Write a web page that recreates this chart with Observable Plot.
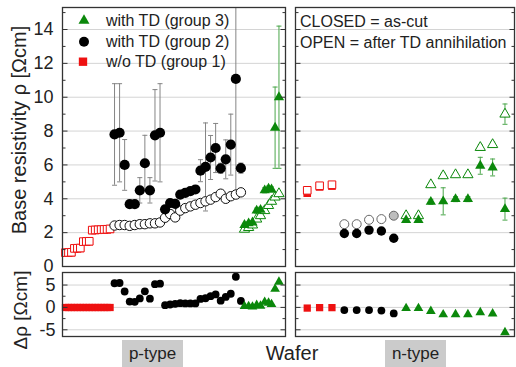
<!DOCTYPE html>
<html><head><meta charset="utf-8">
<script src="https://cdn.jsdelivr.net/npm/d3@7"></script>
<script src="https://cdn.jsdelivr.net/npm/@observablehq/plot@0.6"></script>
<style>
body{margin:0;background:#fff;}
#wrap{position:relative;width:516px;height:367px;overflow:hidden;font-family:"Liberation Sans",Arial,Helvetica,sans-serif;color:#222;}
.lbl{position:absolute;white-space:nowrap;line-height:1;}
</style></head><body><div id="wrap"></div>
<script>
// ---------------- data ----------------
// p-type wafers (wafer position along x, left panel)
const pRedX = [1,2,3,4,5,6,7,8,9,10,11,12,13,14,15,16];
const pRedClosed = [0.8,0.81,0.82,1.05,1.06,1.07,1.45,1.46,1.47,2.13,2.14,2.15,2.16,2.17,2.18,2.2];
const pRedOpen   = [0.82,0.83,0.84,1.07,1.08,1.09,1.47,1.48,1.49,2.15,2.16,2.17,2.18,2.19,2.2,2.22];
const pRedDelta  = [-0.02,-0.02,-0.02,-0.02,-0.02,-0.02,-0.02,-0.02,-0.02,-0.02,-0.02,-0.02,-0.02,-0.02,-0.02,-0.02];

const pBlackX = [17.5,19.2,20.9,22.6,24.3,26.0,27.7,29.4,31.1,32.8,34.5,36.2,37.9,39.6,41.3,43.0,44.7,46.4,48.1,49.8,51.5,53.2,54.9,56.6,58.3,60.0];
const pBlackClosed = [7.8,7.9,6.0,3.68,3.68,4.5,6.1,4.5,7.75,7.9,3.38,3.75,3.7,4.25,4.35,4.45,4.55,5.66,5.88,6.44,7.0,5.8,6.33,7.2,11.08,5.81];
const pBlackErr    = [3.0,2.9,1.5,0.2,0.2,0.75,1.65,0.75,2.7,2.9,0.15,0.2,0.15,0.15,0.15,0.15,0.15,0.65,2.6,1.3,1.45,0.3,1.15,1.8,6.6,0.3];
const pBlackOpen   = [2.42,2.45,2.45,2.4,2.45,2.5,2.5,2.55,2.55,2.6,2.88,3.1,2.9,3.3,3.45,3.55,3.65,3.75,3.85,3.95,4.1,4.3,4.0,4.15,4.25,4.38];
const pBlackDelta  = [5.4,5.45,3.55,1.3,1.25,2.0,3.6,1.95,5.2,5.3,0.5,0.65,0.8,0.95,0.9,0.9,0.9,1.9,2.05,2.5,2.9,1.5,2.35,3.05,6.85,1.45];

const pGreenX = [61.2,62.6,63.9,65.3,66.6,68.0,69.3,70.3,71.5,72.8];
const pGreenClosed = [2.45,2.55,2.6,3.3,3.35,4.5,4.6,4.55,8.2,10.0];
const pGreenErr    = [0.1,0.1,0.1,0.15,0.15,0.15,0.15,0.15,2.4,4.2];
const pGreenOpen   = [2.2,2.3,2.45,2.8,3.0,3.3,3.6,3.85,4.1,4.3];
const pGreenDelta  = [0.25,0.25,0.15,0.5,0.35,1.2,1.0,0.7,4.1,5.7];

// n-type wafers (right panel)
const nRedX = [1,2,3];
const nRedClosed = [4.33,4.7,4.75];
const nRedOpen   = [4.5,4.77,4.83];
const nRedDelta  = [-0.15,-0.05,-0.05];

const nBlackX = [4,5,6,7,8];
const nBlackClosed = [1.95,1.95,2.15,2.1,1.67];
const nBlackOpen   = [2.5,2.5,2.76,2.8,3.0];
const nBlackDelta  = [-0.6,-0.6,-0.6,-0.7,-1.35];

const nGreenX = [9,10,11,12,13,14,15,16,17];
const nGreenClosed  = [2.74,2.74,3.82,3.85,3.98,3.98,5.95,5.85,3.39];
const nGreenErr     = [0.1,0.1,0.15,0.8,0.15,0.15,0.5,0.5,0.65];
const nGreenOpen    = [3.0,3.0,4.83,5.36,5.42,5.42,7.03,7.2,9.0];
const nGreenOpenErr = [0.1,0.1,0.1,0.15,0.1,0.1,0.15,0.15,0.6];
const nGreenDelta   = [-0.2,-0.2,-0.85,-1.6,-1.55,-1.55,-1.1,-1.4,-5.6];

// axis ticks
const topTicks = [0,2,4,6,8,10,12,14];
const topMinor = [1,3,5,7,9,11,13,15];
const topGrid  = [2,4,6,8,10,12,14];
const botTicks = [-5,0,5];
const botMinor = [-2.5,2.5];
const botGrid  = [-5,0,5];

const legendLabels = ["with TD (group 3)","with TD (group 2)","w/o TD (group 1)"];
const noteLabels = ["CLOSED = as-cut","OPEN = after TD annihilation"];

// ---------------- build ----------------
const font = '"Liberation Sans", Arial, Helvetica, sans-serif';
const RED = "#ee1111", GREEN = "#0b880b", GBAR = "#4aa64a", GREY = "#858585";
const wrap = document.getElementById("wrap");

const rows = (xs, cols) => xs.map((x, i) => {
  const r = {x};
  for (const k in cols) r[k] = cols[k][i];
  return r;
});
const pR = rows(pRedX, {c: pRedClosed, o: pRedOpen, d: pRedDelta});
const pB = rows(pBlackX, {c: pBlackClosed, e: pBlackErr, o: pBlackOpen, d: pBlackDelta});
const pG = rows(pGreenX, {c: pGreenClosed, e: pGreenErr, o: pGreenOpen, d: pGreenDelta});
const nR = rows(nRedX, {c: nRedClosed, o: nRedOpen, d: nRedDelta});
const nB = rows(nBlackX, {c: nBlackClosed, o: nBlackOpen, d: nBlackDelta});
const nG = rows(nGreenX, {c: nGreenClosed, e: nGreenErr, o: nGreenOpen, oe: nGreenOpenErr, d: nGreenDelta});

const seg = (a, b) => ({draw(ctx) { ctx.moveTo(a, 0); ctx.lineTo(b, 0); }});
const cap = seg(-2.5, 2.5);

const TOP_DOM = [0, 15.3], BOT_DOM = [-6.5, 7.8];
const PX_DOM = [0, 75], NX_DOM = [0.05, 17.77];

function errBars(data, v, e, color, ymax) {
  return [
    Plot.ruleX(data, {x: "x", y1: d => d[v] - d[e], y2: d => Math.min(d[v] + d[e], ymax), stroke: color, strokeWidth: 1}),
    Plot.dot(data.filter(d => d[v] + d[e] <= ymax), {x: "x", y: d => d[v] + d[e], symbol: cap, stroke: color, fill: "none", strokeWidth: 1}),
    Plot.dot(data, {x: "x", y: d => d[v] - d[e], symbol: cap, stroke: color, fill: "none", strokeWidth: 1})
  ];
}

function panel(o) {
  const [x0, x1] = o.xDomain;
  const edge = (vals, len) => [
    Plot.dot(vals, {x: () => x0, y: d => d, symbol: seg(0, len), stroke: "#333", fill: "none", strokeWidth: 1}),
    Plot.dot(vals, {x: () => x1, y: d => d, symbol: seg(-len, 0), stroke: "#333", fill: "none", strokeWidth: 1})
  ];
  const svg = Plot.plot({
    width: o.width, height: o.height,
    marginLeft: o.ml, marginRight: o.mr, marginTop: o.mt, marginBottom: o.mb,
    x: {domain: o.xDomain, axis: null},
    y: o.labels
      ? {domain: o.yDomain, axis: "left", ticks: o.majors, tickSize: 0, tickPadding: o.pad, tickFormat: d => String(d), label: null}
      : {domain: o.yDomain, axis: null},
    style: {fontSize: "18px", fontFamily: font, background: "transparent", overflow: "visible", color: "#222"},
    marks: [
      Plot.ruleY(o.grid, {stroke: "#d4d4d4", strokeWidth: 1}),
      ...o.marks,
      ...edge(o.majors, 5), ...edge(o.minors, 3),
      Plot.frame({stroke: "#333", strokeWidth: 1.3})
    ]
  });
  svg.style.position = "absolute";
  svg.style.left = o.left + "px";
  svg.style.top = o.top + "px";
  wrap.appendChild(svg);
}

const ymax = TOP_DOM[1];
// top-left: p-type resistivity
panel({
  left: 0, top: 0, width: 290, height: 270, ml: 62, mr: 5, mt: 7, mb: 4, pad: 9,
  xDomain: PX_DOM, yDomain: TOP_DOM, labels: true, majors: topTicks, minors: topMinor, grid: topGrid,
  marks: [
    ...errBars(pG, "c", "e", GBAR, ymax),
    ...errBars(pB, "c", "e", GREY, ymax),
    Plot.dot(pR, {x: "x", y: "c", symbol: "square", r: 4.3, fill: RED, stroke: "none"}),
    Plot.dot(pR, {x: "x", y: "o", symbol: "square", r: 4.3, fill: "white", stroke: RED, strokeWidth: 1}),
    Plot.dot(pB, {x: "x", y: "o", r: 4.7, fill: "white", stroke: "#111", strokeWidth: 1}),
    Plot.dot(pB, {x: "x", y: "c", r: 5.1, fill: "#000", stroke: "none"}),
    Plot.dot(pG, {x: "x", y: "o", symbol: "triangle", r: 3.8, fill: "white", stroke: GREEN, strokeWidth: 1}),
    Plot.dot(pG, {x: "x", y: "c", symbol: "triangle", r: 3.8, fill: GREEN, stroke: "none"})
  ]
});
// top-right: n-type resistivity
panel({
  left: 290, top: 0, width: 226, height: 270, ml: 5, mr: 2, mt: 7, mb: 4,
  xDomain: NX_DOM, yDomain: TOP_DOM, labels: false, majors: topTicks, minors: topMinor, grid: topGrid,
  marks: [
    ...errBars(nG, "o", "oe", GBAR, ymax),
    ...errBars(nG, "c", "e", GBAR, ymax),
    Plot.dot(nR, {x: "x", y: "c", symbol: "square", r: 4.3, fill: RED, stroke: "none"}),
    Plot.dot(nR, {x: "x", y: "o", symbol: "square", r: 4.3, fill: "white", stroke: RED, strokeWidth: 1}),
    Plot.dot(nB, {x: "x", y: "o", r: 4.5, fill: (d, i) => i === nB.length - 1 ? "#bdbdbd" : "white", stroke: "#666", strokeWidth: 1}),
    Plot.dot(nB, {x: "x", y: "c", r: 4.7, fill: "#000", stroke: "none"}),
    Plot.dot(nG, {x: "x", y: "o", symbol: "triangle", r: 3.8, fill: "white", stroke: GREEN, strokeWidth: 1}),
    Plot.dot(nG, {x: "x", y: "c", symbol: "triangle", r: 3.8, fill: GREEN, stroke: "none"})
  ]
});
// bottom-left: p-type delta
panel({
  left: 0, top: 268, width: 290, height: 72, ml: 62, mr: 5, mt: 4, mb: 4, pad: 7,
  xDomain: PX_DOM, yDomain: BOT_DOM, labels: true, majors: botTicks, minors: botMinor, grid: botGrid,
  marks: [
    Plot.dot(pR, {x: "x", y: "d", symbol: "square", r: 4.1, fill: RED, stroke: "none"}),
    Plot.dot(pB, {x: "x", y: "d", r: 3.9, fill: "#000", stroke: "none"}),
    Plot.dot(pG, {x: "x", y: "d", symbol: "triangle", r: 3.6, fill: GREEN, stroke: "none"})
  ]
});
// bottom-right: n-type delta
panel({
  left: 290, top: 268, width: 226, height: 72, ml: 5, mr: 2, mt: 4, mb: 4,
  xDomain: NX_DOM, yDomain: BOT_DOM, labels: false, majors: botTicks, minors: botMinor, grid: botGrid,
  marks: [
    Plot.dot(nR, {x: "x", y: "d", symbol: "square", r: 4.1, fill: RED, stroke: "none"}),
    Plot.dot(nB, {x: "x", y: "d", r: 3.9, fill: "#000", stroke: "none"}),
    Plot.dot(nG, {x: "x", y: "d", symbol: "triangle", r: 3.6, fill: GREEN, stroke: "none"})
  ]
});

// legend (top-left panel)
const NS = "http://www.w3.org/2000/svg";
const leg = document.createElementNS(NS, "svg");
leg.setAttribute("width", 260); leg.setAttribute("height", 80);
leg.style.cssText = "position:absolute;left:0;top:0;overflow:visible";
const legY = [20.7, 41.7, 61.7];
leg.innerHTML =
  `<path d="${d3.symbol(d3.symbolTriangle, 52)()}" transform="translate(84,${legY[0]})" fill="${GREEN}"/>` +
  `<circle cx="84" cy="${legY[1]}" r="5" fill="#000"/>` +
  `<path d="${d3.symbol(d3.symbolSquare, 70)()}" transform="translate(83,${legY[2]})" fill="${RED}"/>` +
  legendLabels.map((t, i) => `<text x="106" y="${legY[i] + 5.6}" font-size="16" font-family='${font}' fill="#222">${t}</text>`).join("");
wrap.appendChild(leg);

// annotation (top-right panel)
const note = document.createElementNS(NS, "svg");
note.setAttribute("width", 220); note.setAttribute("height", 60);
note.style.cssText = "position:absolute;left:296px;top:0;overflow:visible";
note.innerHTML = noteLabels.map((t, i) => `<text x="4" y="${[27, 47.5][i]}" font-size="16" font-family='${font}' fill="#222">${t}</text>`).join("");
wrap.appendChild(note);

// axis titles and x captions
function label(text, css) {
  const el = document.createElement("div");
  el.className = "lbl";
  el.textContent = text;
  el.style.cssText += css;
  wrap.appendChild(el);
}
label("Base resistivity \u03c1 [\u03a9cm]", "left:19px;top:130px;font-size:20px;transform:translate(-50%,-50%) rotate(-90deg);");
label("\u0394\u03c1 [\u03a9cm]", "left:20px;top:310px;font-size:19px;transform:translate(-50%,-50%) rotate(-90deg);");
label("Wafer", "left:292px;top:353px;font-size:20px;transform:translate(-50%,-50%);");
label("p-type", "left:122px;top:340px;width:61px;height:27px;line-height:27px;text-align:center;font-size:17px;background:#cbcbcb;");
label("n-type", "left:385px;top:340px;width:61px;height:27px;line-height:27px;text-align:center;font-size:17px;background:#cbcbcb;");
</script>
</body></html>
